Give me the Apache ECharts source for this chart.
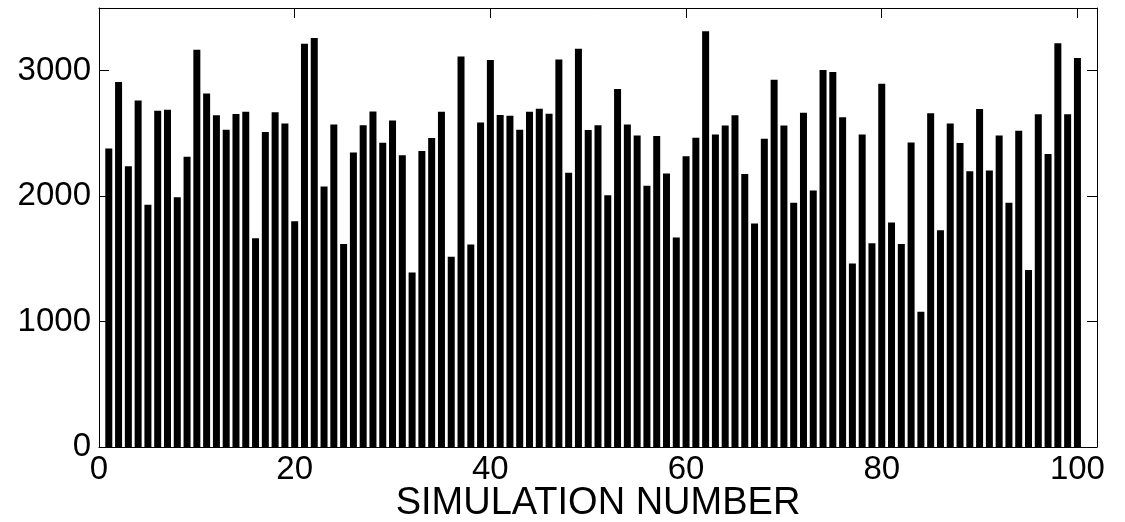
<!DOCTYPE html>
<html>
<head>
<meta charset="utf-8">
<script src="https://cdn.jsdelivr.net/npm/echarts@6/dist/echarts.min.js"></script>
<style>
html,body{margin:0;padding:0;background:#fff;}
#chart{width:1125px;height:522px;}
</style>
</head>
<body>
<div id="chart"></div>
<script>
const simulationNumbers = [1,2,3,4,5,6,7,8,9,10,11,12,13,14,15,16,17,18,19,20,21,22,23,24,25,26,27,28,29,30,31,32,33,34,35,36,37,38,39,40,41,42,43,44,45,46,47,48,49,50,51,52,53,54,55,56,57,58,59,60,61,62,63,64,65,66,67,68,69,70,71,72,73,74,75,76,77,78,79,80,81,82,83,84,85,86,87,88,89,90,91,92,93,94,95,96,97,98,99,100];
const values = [2380,2910,2239,2763,1931,2681,2689,1992,2314,3168,
  2819,2644,2529,2654,2673,1665,2511,2668,2580,1800,
  3214,3261,2077,2572,1619,2348,2566,2675,2425,2604,
  2327,1391,2359,2463,2673,1516,3114,1614,2588,3085,
  2646,2641,2529,2673,2697,2657,3090,2186,3176,2527,
  2566,2008,2854,2572,2484,2082,2479,2181,1670,2319,
  2465,3314,2492,2564,2644,2176,1782,2457,2928,2564,
  1947,2665,2045,3005,2989,2628,1462,2492,1625,2896,
  1790,1619,2428,1079,2660,1729,2580,2423,2199,2694,
  2204,2484,1947,2521,1412,2652,2335,3218,2652,3101];
const xTicks = [0,20,40,60,80,100];
const yTicks = [0,1000,2000,3000];
const xLabel = 'SIMULATION NUMBER';

const FONT = 'Liberation Sans, Arial, Helvetica, sans-serif';
const lineStyle = {color:'#000', width:1};
const chart = echarts.init(document.getElementById('chart'), null, {renderer:'canvas'});
const data = simulationNumbers.map((n,i)=>[n, values[i]]);

chart.setOption({
  animation:false,
  backgroundColor:'#fff',
  grid:{left:99, right:28, top:8, bottom:75, containLabel:false, outerBoundsMode:'none'},
  xAxis:[{
    type:'value', min:0, max:102, interval:20, position:'bottom',
    name:xLabel, nameLocation:'middle', nameGap:38, nameMoveOverlap:false,
    nameTextStyle:{fontFamily:FONT, fontSize:38, color:'#000'},
    axisLine:{show:true, onZero:false, lineStyle},
    axisTick:{show:true, inside:true, length:10, lineStyle},
    axisLabel:{show:true, fontFamily:FONT, fontSize:33, color:'#000', margin:6, showMaxLabel:false,
      formatter:v=> xTicks.includes(v) ? String(v) : ''},
    splitLine:{show:false}
  },{
    type:'value', min:0, max:102, interval:20, position:'top',
    axisLine:{show:true, onZero:false, lineStyle},
    axisTick:{show:true, inside:true, length:10, lineStyle},
    axisLabel:{show:false}, splitLine:{show:false}
  }],
  yAxis:[{
    type:'value', min:0, max:3500, interval:1000, position:'left',
    axisLine:{show:true, onZero:false, lineStyle},
    axisTick:{show:true, inside:true, length:10, lineStyle},
    axisLabel:{show:true, fontFamily:FONT, fontSize:33, color:'#000', margin:8, showMaxLabel:false,
      formatter:v=> yTicks.includes(v) ? String(v) : ''},
    splitLine:{show:false}
  },{
    type:'value', min:0, max:3500, interval:1000, position:'right',
    axisLine:{show:true, onZero:false, lineStyle},
    axisTick:{show:true, inside:true, length:10, lineStyle},
    axisLabel:{show:false}, splitLine:{show:false}
  }],
  series:[{
    type:'bar', xAxisIndex:0, yAxisIndex:0,
    data:data, barWidth:7,
    itemStyle:{color:'#000'},
    z:1
  }]
});
</script>
</body>
</html>
